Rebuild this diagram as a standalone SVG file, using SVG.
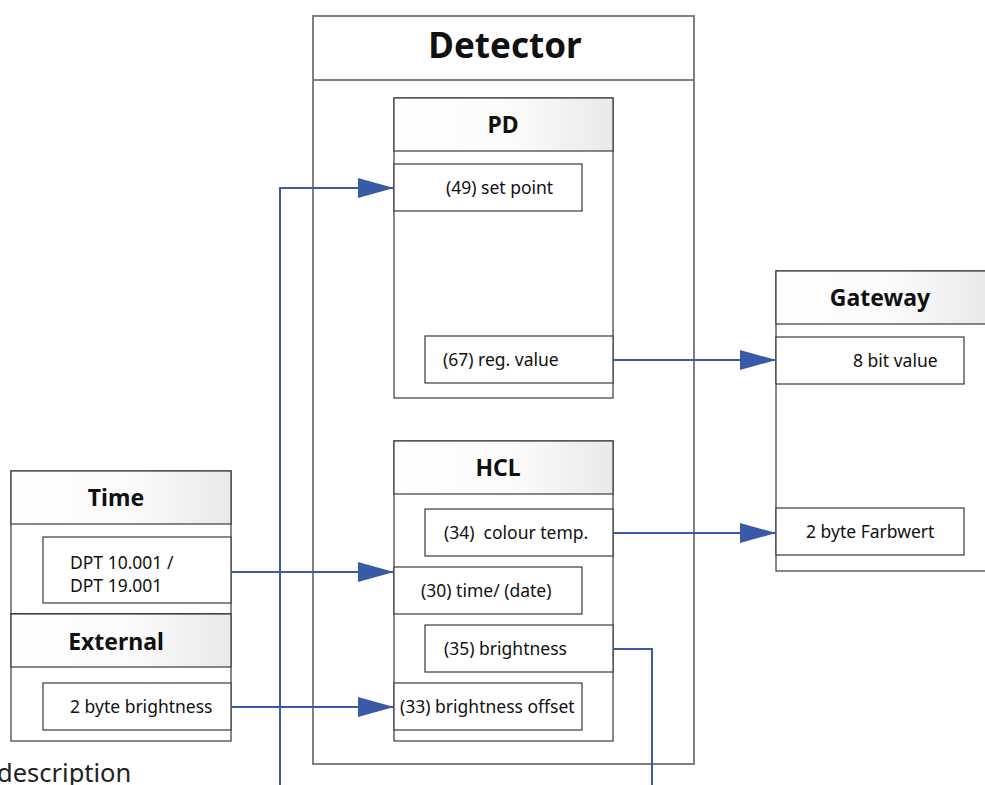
<svg xmlns="http://www.w3.org/2000/svg" width="985" height="785" viewBox="0 0 985 785">
<defs>
<linearGradient id="hg" x1="0" y1="0" x2="1" y2="0">
<stop offset="0" stop-color="#ffffff"/>
<stop offset="0.55" stop-color="#fbfbfb"/>
<stop offset="1" stop-color="#e9e9e9"/>
</linearGradient>
<marker id="arr" markerWidth="36" markerHeight="20" refX="36" refY="10" orient="auto" markerUnits="userSpaceOnUse">
<path d="M0,0 L36,10 L0,20 Z" fill="#3a5aa8"/>
</marker>
</defs>
<style>
.outer{fill:#fff;stroke:#7f7f7f;stroke-width:2}
.box{fill:#fff;stroke:#3a3a3a;stroke-width:1.2}
.hdr{fill:url(#hg);stroke:#3a3a3a;stroke-width:1.2}
.port{fill:#fff;stroke:#3a3a3a;stroke-width:1.2}
.t{font-family:"Noto Sans","Open Sans",sans-serif;font-size:17.5px;fill:#111}
.h{font-family:"Noto Sans","Open Sans",sans-serif;font-size:23px;font-weight:bold;fill:#111;text-anchor:middle}
.c{fill:none;stroke:#3a5aa8;stroke-width:2}
</style>
<rect x="0" y="0" width="985" height="785" fill="#fff"/>
<g id="detector">
<rect class="outer" x="313" y="16" width="381" height="748"/>
<line x1="313" y1="80" x2="694" y2="80" stroke="#7f7f7f" stroke-width="2"/>
<text x="505" y="58" class="h" style="font-size:35px">Detector</text>
</g>
<g id="pd">
<rect class="box" x="394" y="98" width="219" height="300"/>
<rect class="hdr" x="394" y="98" width="219" height="53"/>
<text x="503" y="133" class="h">PD</text>
</g>
<g id="pd-setpoint">
<rect class="port" x="394" y="164" width="188" height="47"/>
<text x="446" y="194" class="t">(49) set point</text>
</g>
<g id="pd-regvalue">
<rect class="port" x="425" y="336" width="188" height="47"/>
<text x="443" y="366" class="t">(67) reg. value</text>
</g>
<g id="hcl">
<rect class="box" x="394" y="441" width="219" height="300"/>
<rect class="hdr" x="394" y="441" width="219" height="53"/>
<text x="498" y="476" class="h">HCL</text>
</g>
<g id="hcl-colourtemp">
<rect class="port" x="425" y="509" width="188" height="47"/>
<text x="444" y="539" class="t" xml:space="preserve">(34)  colour temp.</text>
</g>
<g id="hcl-time">
<rect class="port" x="394" y="567" width="188" height="47"/>
<text x="421" y="597" class="t">(30) time/ (date)</text>
</g>
<g id="hcl-brightness">
<rect class="port" x="425" y="625" width="188" height="47"/>
<text x="444" y="655" class="t">(35) brightness</text>
</g>
<g id="hcl-offset">
<rect class="port" x="394" y="683" width="188" height="47"/>
<text x="400" y="713" class="t">(33) brightness offset</text>
</g>
<g id="gateway">
<rect class="box" x="776" y="271" width="212" height="300"/>
<rect class="hdr" x="776" y="271" width="212" height="53"/>
<text x="880" y="306" class="h">Gateway</text>
</g>
<g id="gw-8bit">
<rect class="port" x="776" y="337" width="188" height="47"/>
<text x="853" y="367" class="t">8 bit value</text>
</g>
<g id="gw-farbwert">
<rect class="port" x="776" y="508" width="188" height="47"/>
<text x="806" y="538" class="t">2 byte Farbwert</text>
</g>
<g id="time">
<rect class="box" x="11" y="471" width="220" height="143"/>
<rect class="hdr" x="11" y="471" width="220" height="53"/>
<text x="116" y="506" class="h">Time</text>
</g>
<g id="time-dpt">
<rect class="port" x="43" y="537" width="188" height="66"/>
<text x="70" y="569" class="t">DPT 10.001 /</text>
<text x="70" y="592" class="t">DPT 19.001</text>
</g>
<g id="external">
<rect class="box" x="11" y="614" width="220" height="127"/>
<rect class="hdr" x="11" y="614" width="220" height="53"/>
<text x="116" y="650" class="h">External</text>
</g>
<g id="ext-brightness">
<rect class="port" x="43" y="683" width="188" height="47"/>
<text x="70" y="713" class="t">2 byte brightness</text>
</g>
<text x="-3" y="782" style="font-family:'Noto Sans','Open Sans',sans-serif;font-size:25.5px;fill:#222">description</text>
<g id="connectors">
<path class="c" d="M280,785 L280,188 L394,188" marker-end="url(#arr)"/>
<path class="c" d="M613,360 L776,360" marker-end="url(#arr)"/>
<path class="c" d="M613,533 L776,533" marker-end="url(#arr)"/>
<path class="c" d="M231,572 L394,572" marker-end="url(#arr)"/>
<path class="c" d="M231,707 L394,707" marker-end="url(#arr)"/>
<path class="c" d="M613,649 L652,649 L652,785"/>
</g>
</svg>
